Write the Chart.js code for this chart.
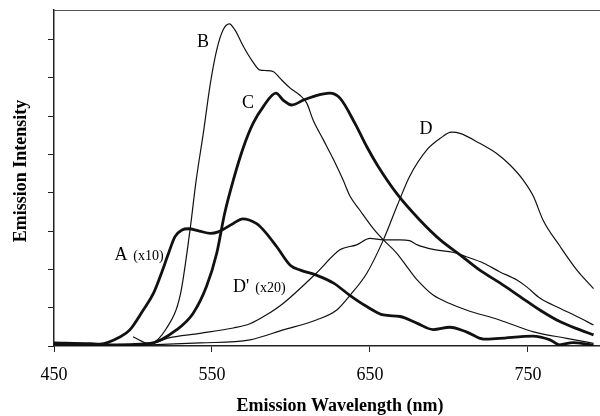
<!DOCTYPE html>
<html>
<head>
<meta charset="utf-8">
<script src="https://cdn.jsdelivr.net/npm/chart.js@4.4.0/dist/chart.umd.min.js"></script>
<style>
  html, body { margin: 0; padding: 0; background: #fff; }
  #wrap { width: 600px; height: 416px; }
</style>
</head>
<body>
<div id="wrap"><canvas id="chart" width="600" height="416"></canvas></div>
<script>
// emission spectra: wavelength (nm) against intensity (arb. units)
var aWave = [450, 473, 479, 492, 498, 506.5, 513, 518, 522.5, 526.5, 531, 535, 542, 549, 554, 563.5, 569.5, 578, 582.5, 591, 599.5, 606, 616, 627, 637, 648, 658.5, 669, 680, 690, 700.5, 711, 722, 732, 753, 764, 770, 778.5, 787, 791.5];
var aInt = [0.08, 0.06, 0.05, 0.24, 0.42, 0.94, 1.38, 1.90, 2.42, 2.85, 3.03, 3.06, 3.00, 2.94, 2.98, 3.20, 3.32, 3.20, 3.03, 2.59, 2.11, 1.98, 1.85, 1.64, 1.33, 1.03, 0.81, 0.77, 0.59, 0.43, 0.49, 0.37, 0.18, 0.20, 0.26, 0.16, 0.03, 0.09, 0.05, 0.02];

var bWave = [479, 511, 521, 530, 536, 540, 544.5, 549, 553, 557, 561, 564.5, 570, 575, 580.5, 584.5, 589, 593, 599.5, 605.5, 610, 614, 620.5, 627, 633, 637.5, 643.5, 652, 658.5, 667, 675, 680, 690, 700.5, 711, 732, 753.5, 774.5, 791.5];
var bInt = [0.01, 0.07, 0.45, 1.35, 3.00, 4.33, 5.55, 6.86, 7.73, 8.25, 8.41, 8.25, 7.81, 7.47, 7.20, 7.19, 7.16, 6.99, 6.73, 6.55, 6.34, 5.90, 5.38, 4.86, 4.33, 3.90, 3.55, 3.07, 2.77, 2.42, 1.98, 1.72, 1.33, 1.11, 0.94, 0.68, 0.37, 0.20, 0.07];

var cWave = [450, 479, 511, 527.5, 538, 546.5, 553, 558, 563.5, 570, 576, 582.5, 590.5, 595, 600.5, 608, 614, 624.5, 631, 640.5, 648, 655, 667.5, 681.5, 694.5, 707, 719.5, 732.5, 745, 757.5, 770.5, 783, 791.5];
var cInt = [0.06, 0.03, 0.07, 0.42, 0.85, 1.55, 2.42, 3.46, 4.33, 5.20, 5.81, 6.25, 6.60, 6.42, 6.29, 6.42, 6.51, 6.60, 6.47, 5.81, 5.20, 4.70, 3.95, 3.29, 2.77, 2.38, 1.98, 1.64, 1.29, 0.94, 0.63, 0.42, 0.29];

var dWave = [450, 479, 511, 542.5, 574, 595, 616, 629, 637.5, 648, 658.5, 667, 675, 686, 694.5, 701.5, 707, 719.5, 730, 738.5, 747, 753.5, 759.5, 770.5, 781, 791.5];
var dInt = [0.00, 0.01, 0.03, 0.08, 0.16, 0.42, 0.68, 0.94, 1.33, 1.90, 2.77, 3.64, 4.42, 5.12, 5.42, 5.58, 5.55, 5.29, 5.03, 4.73, 4.33, 3.90, 3.29, 2.59, 1.98, 1.50];

var dpWave = [500, 511, 521.5, 542.5, 563.5, 574, 584, 595, 616, 631, 641.5, 650, 658.5, 669, 675, 680, 690, 703, 711, 722, 732, 743, 749, 757.5, 770.5, 781, 791.5];
var dpInt = [0.24, 0.05, 0.20, 0.33, 0.47, 0.58, 0.80, 1.11, 1.90, 2.51, 2.64, 2.81, 2.77, 2.77, 2.75, 2.64, 2.52, 2.44, 2.33, 2.16, 1.94, 1.72, 1.55, 1.25, 0.98, 0.77, 0.55];

var xTicks = [450, 550, 650, 750];
var yTicks = [0, 1, 2, 3, 4, 5, 6, 7, 8];

var xTitle = 'Emission Wavelength (nm)';
var yTitle = 'Emission Intensity';

// curve names, anchored in data units
var curveLabels = [
	{text: 'B', wave: 544.3, level: 7.94},
	{text: 'C', wave: 572.8, level: 6.34},
	{text: 'D', wave: 685.4, level: 5.67},
	{text: 'A', wave: 492.4, level: 2.38},
	{text: '(x10)', wave: 509.8, level: 2.35, small: true},
	{text: "D'", wave: 568.4, level: 1.54},
	{text: '(x20)', wave: 587, level: 1.51, small: true}
];

var serif = '"Liberation Serif", "Times New Roman", serif';

function pairs(xs, ys) {
	return xs.map(function(x, i) { return {x: x, y: ys[i]}; });
}

function curve(label, xs, ys, width) {
	return {
		label: label,
		data: pairs(xs, ys),
		borderColor: '#111',
		borderWidth: width,
		pointRadius: 0,
		fill: false,
		cubicInterpolationMode: 'monotone'
	};
}

var frameAndText = {
	id: 'frameAndText',
	afterDraw: function(chart) {
		var ctx = chart.ctx;
		var area = chart.chartArea;
		var sx = chart.scales.x, sy = chart.scales.y;
		ctx.save();
		// thin top edge of the frame
		ctx.strokeStyle = '#555';
		ctx.lineWidth = 1;
		ctx.beginPath();
		ctx.moveTo(area.left, area.top + 0.5);
		ctx.lineTo(area.right, area.top + 0.5);
		ctx.stroke();

		ctx.fillStyle = '#000';
		ctx.textAlign = 'center';
		ctx.textBaseline = 'middle';
		curveLabels.forEach(function(l) {
			ctx.font = (l.small ? '14px ' : '18px ') + serif;
			ctx.fillText(l.text, sx.getPixelForValue(l.wave), sy.getPixelForValue(l.level));
		});

		ctx.font = 'bold 18px ' + serif;
		ctx.fillText(xTitle, 340, 406);
		ctx.translate(21, 171);
		ctx.rotate(-Math.PI / 2);
		ctx.fillText(yTitle, 0, 0);
		ctx.restore();
	}
};

var ctx = document.getElementById('chart').getContext('2d');
var chart = new Chart(ctx, {
	type: 'line',
	data: {
		datasets: [
			curve('A', aWave, aInt, 2.8),
			curve('B', bWave, bInt, 1.2),
			curve('C', cWave, cInt, 2.8),
			curve('D', dWave, dInt, 1.2),
			curve("D'", dpWave, dpInt, 1.2)
		]
	},
	options: {
		responsive: false,
		animation: false,
		layout: {padding: {top: 10, right: 0, left: 0, bottom: 0}},
		plugins: {legend: {display: false}, tooltip: {enabled: false}},
		scales: {
			x: {
				type: 'linear',
				min: 450,
				max: 795.6,
				afterBuildTicks: function(s) { s.ticks = xTicks.map(function(v) { return {value: v}; }); },
				afterFit: function(s) { s.height = 70; },
				grid: {drawOnChartArea: false, drawTicks: true, tickLength: 6, color: '#222'},
				border: {color: '#222', width: 1.5},
				ticks: {color: '#000', font: {family: serif, size: 18}, padding: 12, maxRotation: 0, autoSkip: false}
			},
			y: {
				type: 'linear',
				min: 0,
				max: 8.77,
				afterBuildTicks: function(s) { s.ticks = yTicks.map(function(v) { return {value: v}; }); },
				afterFit: function(s) { s.width = 54; },
				grid: {drawOnChartArea: false, drawTicks: true, tickLength: 6, color: '#222'},
				border: {color: '#222', width: 1.5},
				ticks: {display: false}
			}
		}
	},
	plugins: [frameAndText]
});
</script>
</body>
</html>
